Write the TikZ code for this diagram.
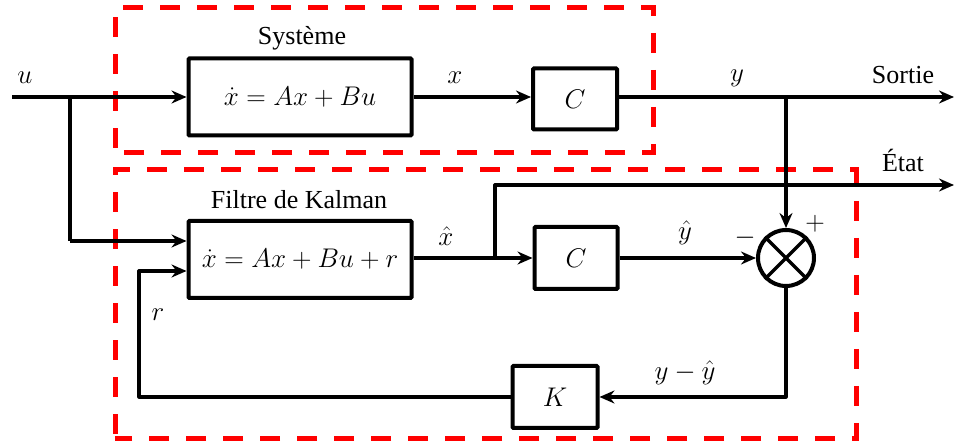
\documentclass[tikz,border=0pt]{standalone}
\usepackage{fix-cm}
\usepackage{fontspec}
\setmainfont{Liberation Serif}
\usetikzlibrary{arrows.meta,calc}
\begin{document}
\begin{tikzpicture}[x=1pt,y=-1pt,
  font=\fontsize{26}{30}\selectfont,
  blk/.style={draw,line width=4pt,rounded corners=1pt,minimum width=#1,inner sep=0pt,font=\fontsize{27}{32}\selectfont},
  sig/.style={line width=3.2pt,line join=round},
  arr/.style={sig,-{Stealth[length=15pt,width=13pt,inset=5pt]}},
  frame/.style={draw=red,line width=5pt,dash pattern=on 20pt off 17pt,dash phase=-5pt},
  lbl/.style={inner sep=0pt},
  mlbl/.style={inner sep=0pt,font=\fontsize{27}{32}\selectfont}]
\useasboundingbox (0,0) rectangle (954,443);
% frames
\draw[frame] (115,153) -- (115,8) -- (653,8) -- (653,153) -- cycle;
\draw[frame] (115,439) -- (115,170) -- (856,170) -- (856,439) -- cycle;
% blocks
\node[blk=223pt,minimum height=77pt] (sys) at (300,97) {$\dot{x} = Ax + Bu$};
\node[blk=84pt,minimum height=61pt] (C1) at (575,99) {$C$};
\node[blk=223pt,minimum height=77pt] (kal) at (300,259.5) {$\dot{x} = Ax + Bu + r$};
\node[blk=83pt,minimum height=62pt] (C2) at (576,258) {$C$};
\node[blk=85pt,minimum height=62pt] (K) at (555,397) {$K$};
\node[draw,circle,line width=4pt,minimum size=56pt,inner sep=0pt] (sum) at (786,258) {};
\draw[line width=3.5pt] (sum.north east) -- (sum.south west) (sum.north west) -- (sum.south east);
% labels
\node[lbl] (tsys) at (302,38) {Système};
\node[lbl] (tkal) at (299,200) {Filtre de Kalman};
\node[mlbl] (tu) at (25,78) {$u$};
\node[mlbl] (tx) at (455,78) {$x$};
\node[mlbl] (ty) at (737,78) {$y$};
\node[lbl] (tsortie) at (903,75) {Sortie};
\node[lbl] (tetat) at (903,160) {État};
\node[mlbl] (txh) at (446,236) {$\hat{x}$};
\node[mlbl] (tyh) at (685,233) {$\hat{y}$};
\node[mlbl] (tminus) at (745,238) {$-$};
\node[mlbl] (tplus) at (815,224) {$+$};
\node[mlbl] (tr) at (158,315) {$r$};
\node[mlbl] (terr) at (685,373) {$y-\hat{y}$};
% coordinates
\coordinate (uin) at (12,97);
\coordinate (ub) at (70,97);
\coordinate (yb) at (786,97);
\coordinate (yout) at (954,97);
\coordinate (xb) at (495,258);
\coordinate (xt) at (495,185);
\coordinate (xout) at (954,185);
\coordinate (ku) at (70,241);
\coordinate (kr) at (139,271);
% connectors
\draw[arr] (uin) -- (sys.west);
\draw[sig] (ub) -- (ku);
\draw[arr] (ku) -- (ku -| kal.west);
\draw[arr] (sys.east) -- (sys.east -| C1.west);
\draw[arr] (sys.east -| C1.east) -- (yout);
\draw[arr] (yb) -- (sum.north);
\draw[arr] (kal.east |- C2.west) -- (C2.west);
\draw[arr] (xb) -- (xt) -- (xout);
\draw[arr] (C2.east) -- (sum.west);
\draw[arr] (sum.south) |- (K.east);
\draw[arr] (K.west) -| (kr) -- (kr -| kal.west);
\end{tikzpicture}
\end{document}
